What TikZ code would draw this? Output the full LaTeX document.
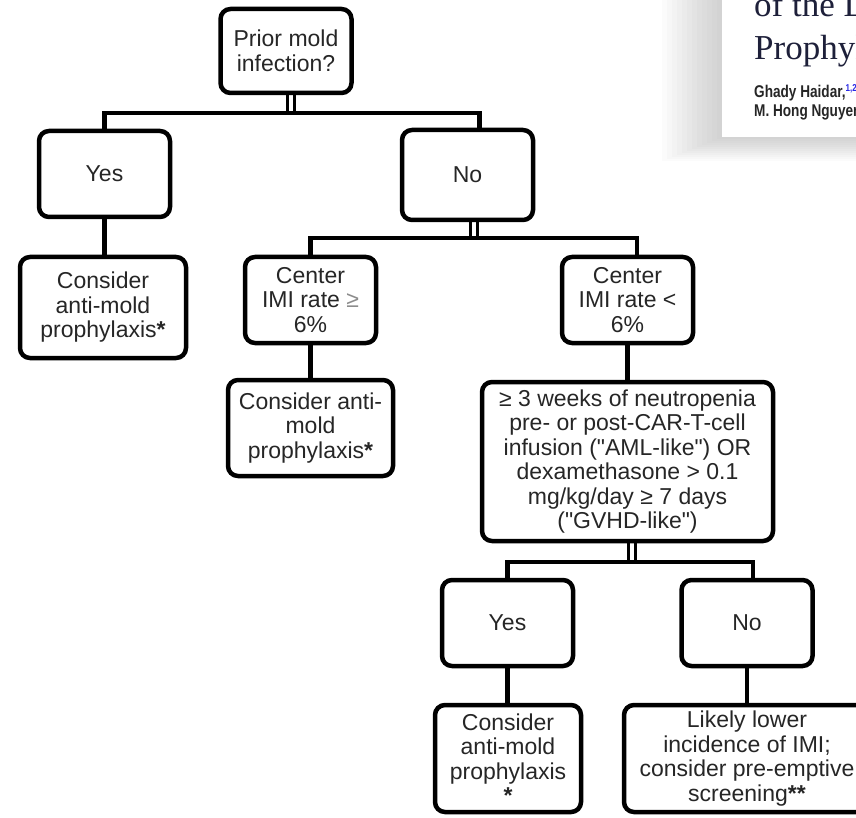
\documentclass[tikz,border=0pt]{standalone}
\usepackage{fontspec}
\setmainfont{Liberation Sans}
\newfontfamily\titlefont{Liberation Serif}
\newfontfamily\authorfont{Liberation Sans}[FakeStretch=0.8]
\usetikzlibrary{positioning,backgrounds}
\definecolor{titlenavy}{RGB}{30,32,58}
\definecolor{supblue}{RGB}{40,40,230}

\begin{document}
\begin{tikzpicture}[x=1pt,y=-1pt]
\tikzstyle{box}=[rectangle,rounded corners=10pt,draw=black,line width=4.5pt,fill=white,inner sep=0pt,align=center,text=black!85,font=\fontsize{23}{24.5}\selectfont]
\tikzstyle{small}=[box,minimum width=131pt,minimum height=86pt]
\tikzstyle{link}=[line width=4.5pt]
\tikzstyle{twin}=[line width=3.5pt,double=white,double distance=3.5pt]
\tikzstyle{paper}=[anchor=base west,inner sep=0pt]

\useasboundingbox (0,0) rectangle (856,818);
\clip (0,0) rectangle (856,818);

% decision tree
\node [small,minimum height=84pt] at (286,51) (prior) {Prior mold\\infection?};
\node [small] at (104.5,174) (yes1) {Yes};
\node [small,minimum height=90pt] at (467.5,175) (no1) {No};
\node [box,minimum width=166pt,minimum height=101pt] at (103,307.5) (cons1) {Consider\\anti-mold\\prophylaxis\textbf{*}};
\node [small] at (310.5,300) (ge6) {Center\\IMI rate {\color{black!45}≥}\\6\%};
\node [small] at (627.5,300) (lt6) {Center\\IMI rate <\\6\%};
\node [box,minimum width=165pt,minimum height=96pt] at (310.5,428) (cons2) {Consider anti-\\mold\\prophylaxis\textbf{*}};
\node [box,minimum width=291pt,minimum height=159pt] at (627.5,461.5) (crit) {≥ 3 weeks of neutropenia\\pre- or post-CAR-T-cell\\infusion (\textquotedbl AML-like\textquotedbl) OR\\dexamethasone > 0.1\\mg/kg/day ≥ 7 days\\(\textquotedbl GVHD-like\textquotedbl)};
\node [small] at (507.5,623) (yes2) {Yes};
\node [small] at (747,623) (no2) {No};
\node [box,minimum width=146pt,minimum height=107pt] at (508,758.5) (cons3) {Consider\\anti-mold\\prophylaxis\\\textbf{*}};
\node [box,minimum width=246pt,minimum height=107pt] at (747,758.5) (likely) {Likely lower\\incidence of IMI;\\consider pre-emptive\\screening\textbf{**}};

\coordinate (fork1) at (291,113);
\coordinate (fork2) at (474,238);
\coordinate (fork3) at (632,562);

\begin{scope}[on background layer]
\draw [twin] (prior.south -| fork1) -- (fork1);
\draw [link] (yes1.north) |- (fork1) -| ([xshift=12pt]no1.north);
\draw [link] (yes1.south) -- (yes1.south |- cons1.north);
\draw [twin] (no1.south -| fork2) -- (fork2);
\draw [link] (ge6.north) |- (fork2) -| ([xshift=9.5pt]lt6.north);
\draw [link] (ge6.south) -- (ge6.south |- cons2.north);
\draw [link] (lt6.south) -- (lt6.south |- crit.north);
\draw [twin] (crit.south -| fork3) -- (fork3);
\draw [link] (yes2.north) |- (fork3) -| ([xshift=6pt]no2.north);
\draw [link] (yes2.south) -- (yes2.south |- cons3.north);
\draw [link] (no2.south) -- (no2.south |- likely.north);
\end{scope}

% clipped paper header, top right
\foreach \i in {1,...,12}
  \fill [black,opacity=0.016] (722-5*\i,0) rectangle (860,137+2*\i);
\fill [white] (722,0) rectangle (860,137);
\node [paper,font=\titlefont\fontsize{35}{35}\selectfont,text=titlenavy] at (754,17) (title1) {of the L};
\node [paper,font=\titlefont\fontsize{35}{35}\selectfont,text=titlenavy] at (754,60) (title2) {Prophyl};
\node [paper,font=\authorfont\bfseries\fontsize{17}{17}\selectfont,text=black!85] at (754,98) (author1) {Ghady Haidar,\raisebox{6pt}{\fontsize{10}{10}\selectfont\color{supblue}1,2}};
\node [paper,font=\authorfont\bfseries\fontsize{17}{17}\selectfont,text=black!85] at (754,117) (author2) {M. Hong Nguyen};
\end{tikzpicture}
\end{document}
